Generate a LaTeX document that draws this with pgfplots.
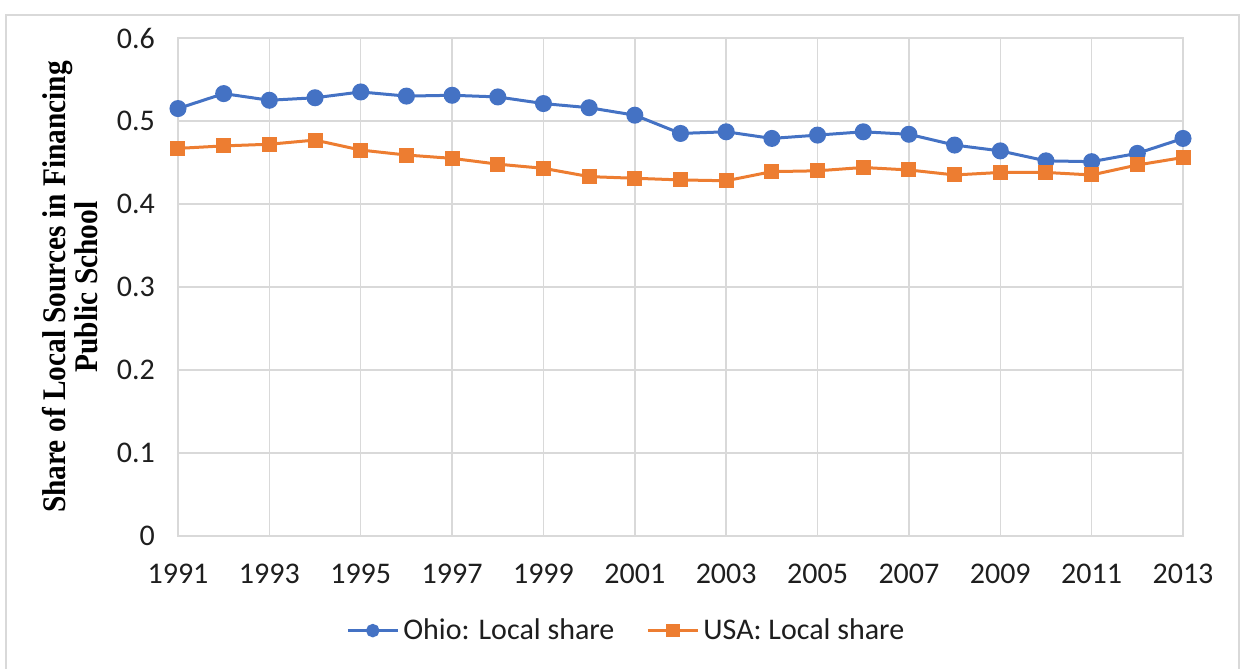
\documentclass[border=0pt]{standalone}
\usepackage{pgfplots}
\pgfplotsset{compat=1.18}
\usepackage{fontspec}
\setmainfont{Carlito}
\newfontfamily\labfont[FakeStretch=0.89]{Liberation Serif}
\definecolor{ohio}{RGB}{68,114,196}
\definecolor{usa}{RGB}{237,125,49}
\definecolor{gridc}{RGB}{217,217,217}
\definecolor{txt}{RGB}{30,30,30}

\pgfplotstableread{
year ohio usa
1991 0.515 0.467
1992 0.533 0.470
1993 0.525 0.472
1994 0.528 0.477
1995 0.535 0.465
1996 0.530 0.459
1997 0.531 0.455
1998 0.529 0.448
1999 0.521 0.443
2000 0.516 0.433
2001 0.507 0.431
2002 0.485 0.429
2003 0.487 0.428
2004 0.479 0.439
2005 0.483 0.440
2006 0.487 0.444
2007 0.484 0.441
2008 0.471 0.435
2009 0.464 0.438
2010 0.452 0.438
2011 0.451 0.435
2012 0.461 0.447
2013 0.479 0.456
}\shares

\begin{document}
\begin{tikzpicture}
% page = reference frame, 1 px = 0.5pt, plot area corner at (0,0)
\useasboundingbox (-89pt,-66.5pt) rectangle (532.5pt,268pt);
\draw[gridc, line width=0.75pt] (-86pt,-90pt) rectangle (530.5pt,260.5pt);
\begin{axis}[
    scale only axis,
    width=502.5pt, height=249pt,
    xmin=1991, xmax=2013,
    ymin=0, ymax=0.6,
    xtick={1991,1993,...,2013},
    ytick={0,0.1,...,0.6},
    yticklabels={0,0.1,0.2,0.3,0.4,0.5,0.6},
    /pgf/number format/1000 sep={},
    /pgf/number format/assume math mode=true,
    grid=major,
    grid style={gridc, line width=0.75pt},
    axis line style={gridc, line width=0.75pt},
    major tick length=0pt,
    tick label style={font=\fontsize{15}{18}\selectfont, text=txt},
    xticklabel style={yshift=-10.5pt},
    yticklabel style={xshift=-8pt},
    ylabel={Share of Local Sources in Financing\\Public School},
    ylabel style={at={(axis description cs:-0.1075,0.5)}, anchor=center,
        align=center, font=\labfont\bfseries\fontsize{16.5}{16}\selectfont},
    legend style={at={(axis description cs:0.447,-0.19)}, anchor=center,
        draw=none, font=\fontsize{15}{18}\selectfont, text=txt,
        /tikz/every even column/.append style={column sep=14pt}},
    legend columns=2,
    legend image code/.code={
        \draw[mark repeat=2, mark phase=2, mark size=2.6pt]
        plot coordinates {(0pt,0pt) (12.5pt,0pt) (25pt,0pt)};},
]
\addplot[ohio, line width=1.5pt, mark=*, mark size=3.5pt,
    mark options={fill=ohio, draw=ohio}] table[x=year, y=ohio] {\shares};
\addlegendentry{Ohio: Local share}
\addplot[usa, line width=1.5pt, mark=square*, mark size=3pt,
    mark options={fill=usa, draw=usa}] table[x=year, y=usa] {\shares};
\addlegendentry{USA: Local share}
\end{axis}
\end{tikzpicture}
\end{document}
